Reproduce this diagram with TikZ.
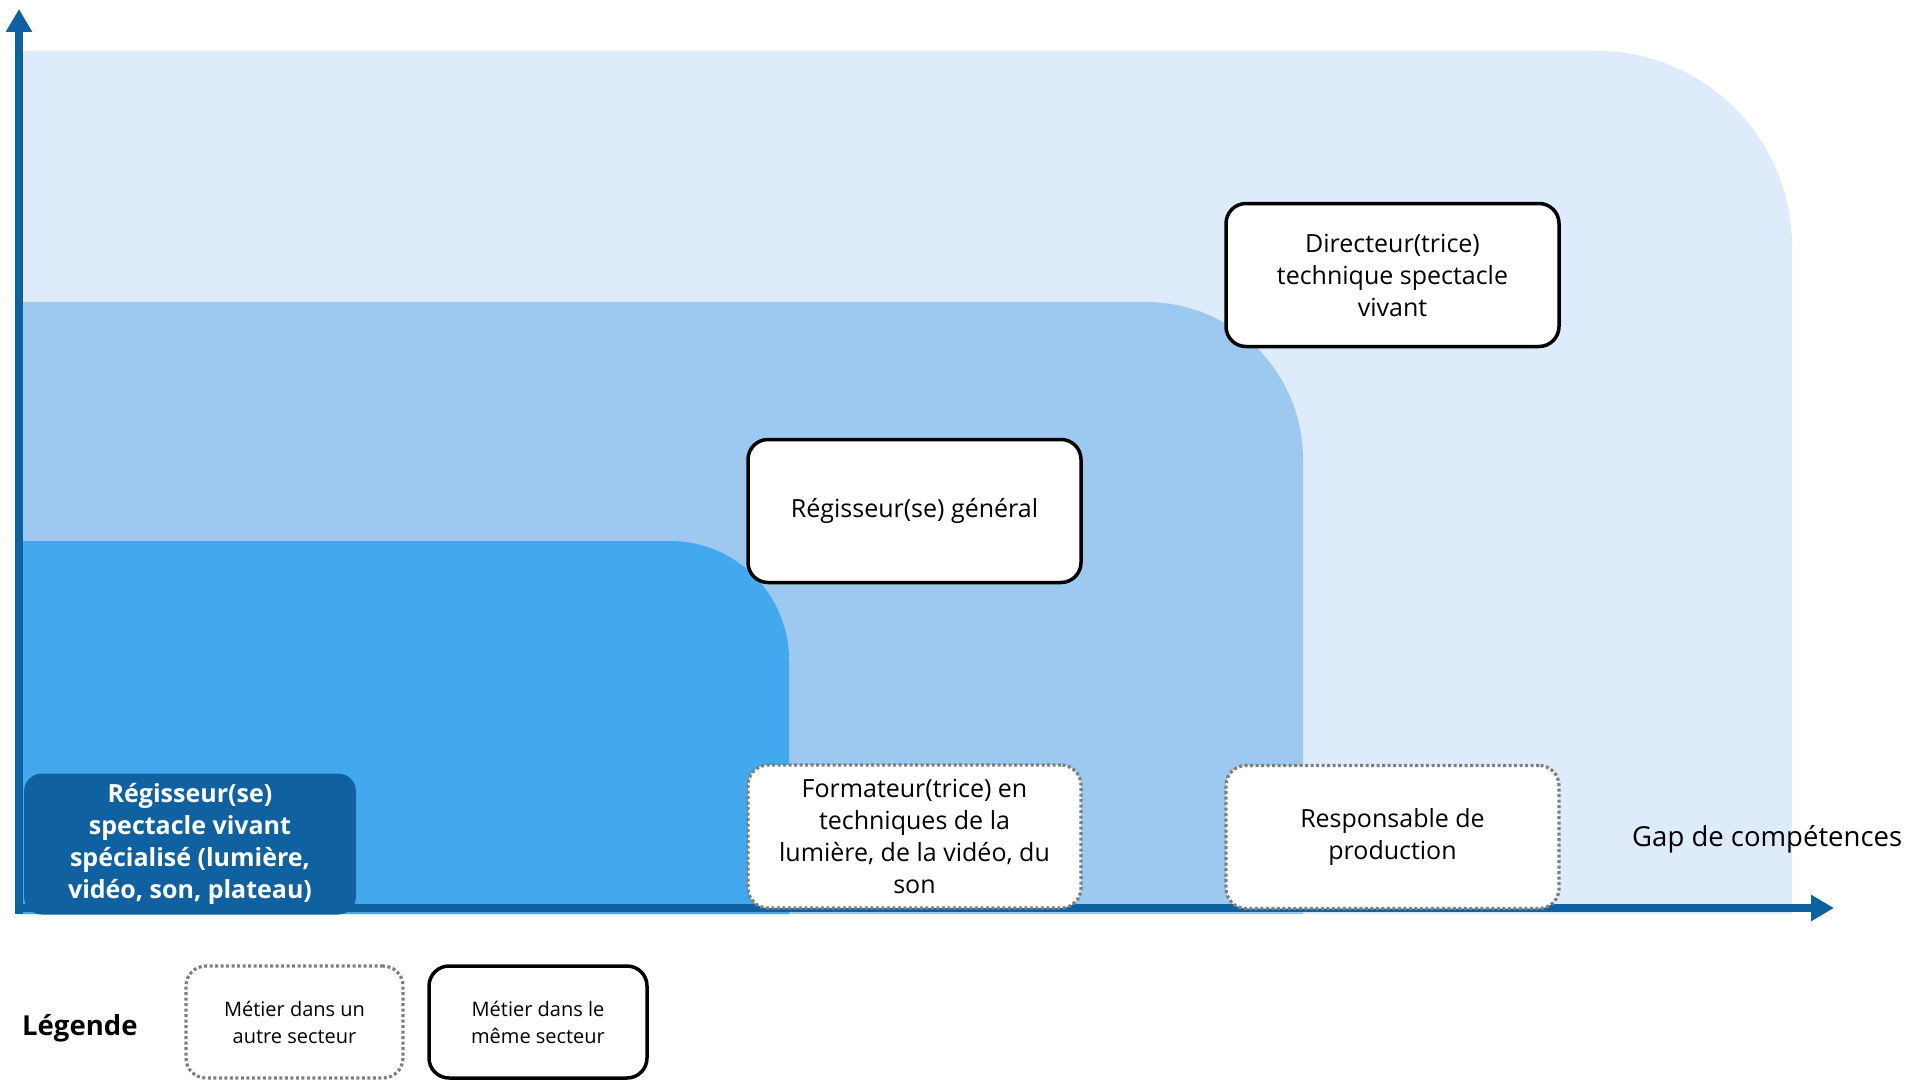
\documentclass[tikz,border=0pt]{standalone}
\usepackage{fontspec}
\setmainfont{Open Sans}
\usetikzlibrary{arrows.meta}
\definecolor{regA}{HTML}{DDEBFA}
\definecolor{regB}{HTML}{9DC9F1}
\definecolor{regC}{HTML}{42A9EF}
\definecolor{axisblue}{HTML}{0F62A0}
\definecolor{nodeblue}{HTML}{10619F}
\definecolor{dotgray}{HTML}{7F7F7F}
\tikzset{
  jobsame/.style={draw=black, line width=3.5pt, fill=white, rounded corners=20pt,
    minimum width=333pt, minimum height=143pt, align=center, inner sep=0pt,
    font=\fontsize{25}{32}\selectfont},
  jobother/.style={draw=dotgray, line width=3.2pt, dash pattern=on 3pt off 2.5pt, fill=white,
    rounded corners=20pt, minimum width=333pt, minimum height=143pt, align=center,
    inner sep=0pt, font=\fontsize{25}{32}\selectfont},
  jobmain/.style={fill=nodeblue, rounded corners=18pt, text=white,
    minimum width=332pt, minimum height=141pt, align=center, inner sep=0pt,
    font=\bfseries\fontsize{25}{32}\selectfont},
  legsame/.style={jobsame, minimum width=218pt, minimum height=112pt,
    font=\fontsize{20}{27}\selectfont},
  legother/.style={jobother, minimum width=217pt, minimum height=112pt,
    font=\fontsize{20}{27}\selectfont},
  axisline/.style={draw=axisblue, line width=8pt,
    -{Triangle[width=25pt,length=23pt]}}
}
\begin{document}
\begin{tikzpicture}[x=1pt,y=-1pt]
\useasboundingbox (0,0) rectangle (1911,1081);
% regions
\fill[regA] (18,914) -- (18,51) -- (1597,51) arc[start angle=-90,end angle=0,radius=195] -- (1792,914) -- cycle;
\fill[regB] (18,914) -- (18,302) -- (1146,302) arc[start angle=-90,end angle=0,radius=157] -- (1303,914) -- cycle;
\fill[regC] (18,914) -- (18,541) -- (670,541) arc[start angle=-90,end angle=0,radius=119] -- (789,914) -- cycle;
% axes
\coordinate (ybase) at (19,914);
\coordinate (ytip) at (19,9);
\coordinate (xstart) at (15,908);
\coordinate (xtip) at (1834,908);
\draw[axisline] (ybase) -- (ytip);
\draw[axisline] (xstart) -- (xtip);
% nodes
\node[jobmain] (spec) at (190,844) {Régisseur(se)\\spectacle vivant\\spécialisé (lumière,\\vidéo, son, plateau)};
\node[jobsame] (gen) at (914.5,511) {Régisseur(se) général};
\node[jobsame] (dir) at (1392.5,275) {Directeur(trice)\\technique spectacle\\vivant};
\node[jobother] (form) at (914.5,836.5) {Formateur(trice) en\\techniques de la\\lumière, de la vidéo, du\\son};
\node[jobother] (resp) at (1392.5,837) {Responsable de\\production};
\node[anchor=west, inner sep=0pt, font=\fontsize{27.5}{30}\selectfont] (gap) at (1632,839) {Gap de compétences};
% legend
\node[anchor=west, inner sep=0pt, font=\bfseries\fontsize{27.5}{30}\selectfont] (leg) at (22,1028) {Légende};
\node[legother] (leg1) at (294.5,1022) {Métier dans un\\autre secteur};
\node[legsame] (leg2) at (538,1022) {Métier dans le\\même secteur};
\end{tikzpicture}
\end{document}
